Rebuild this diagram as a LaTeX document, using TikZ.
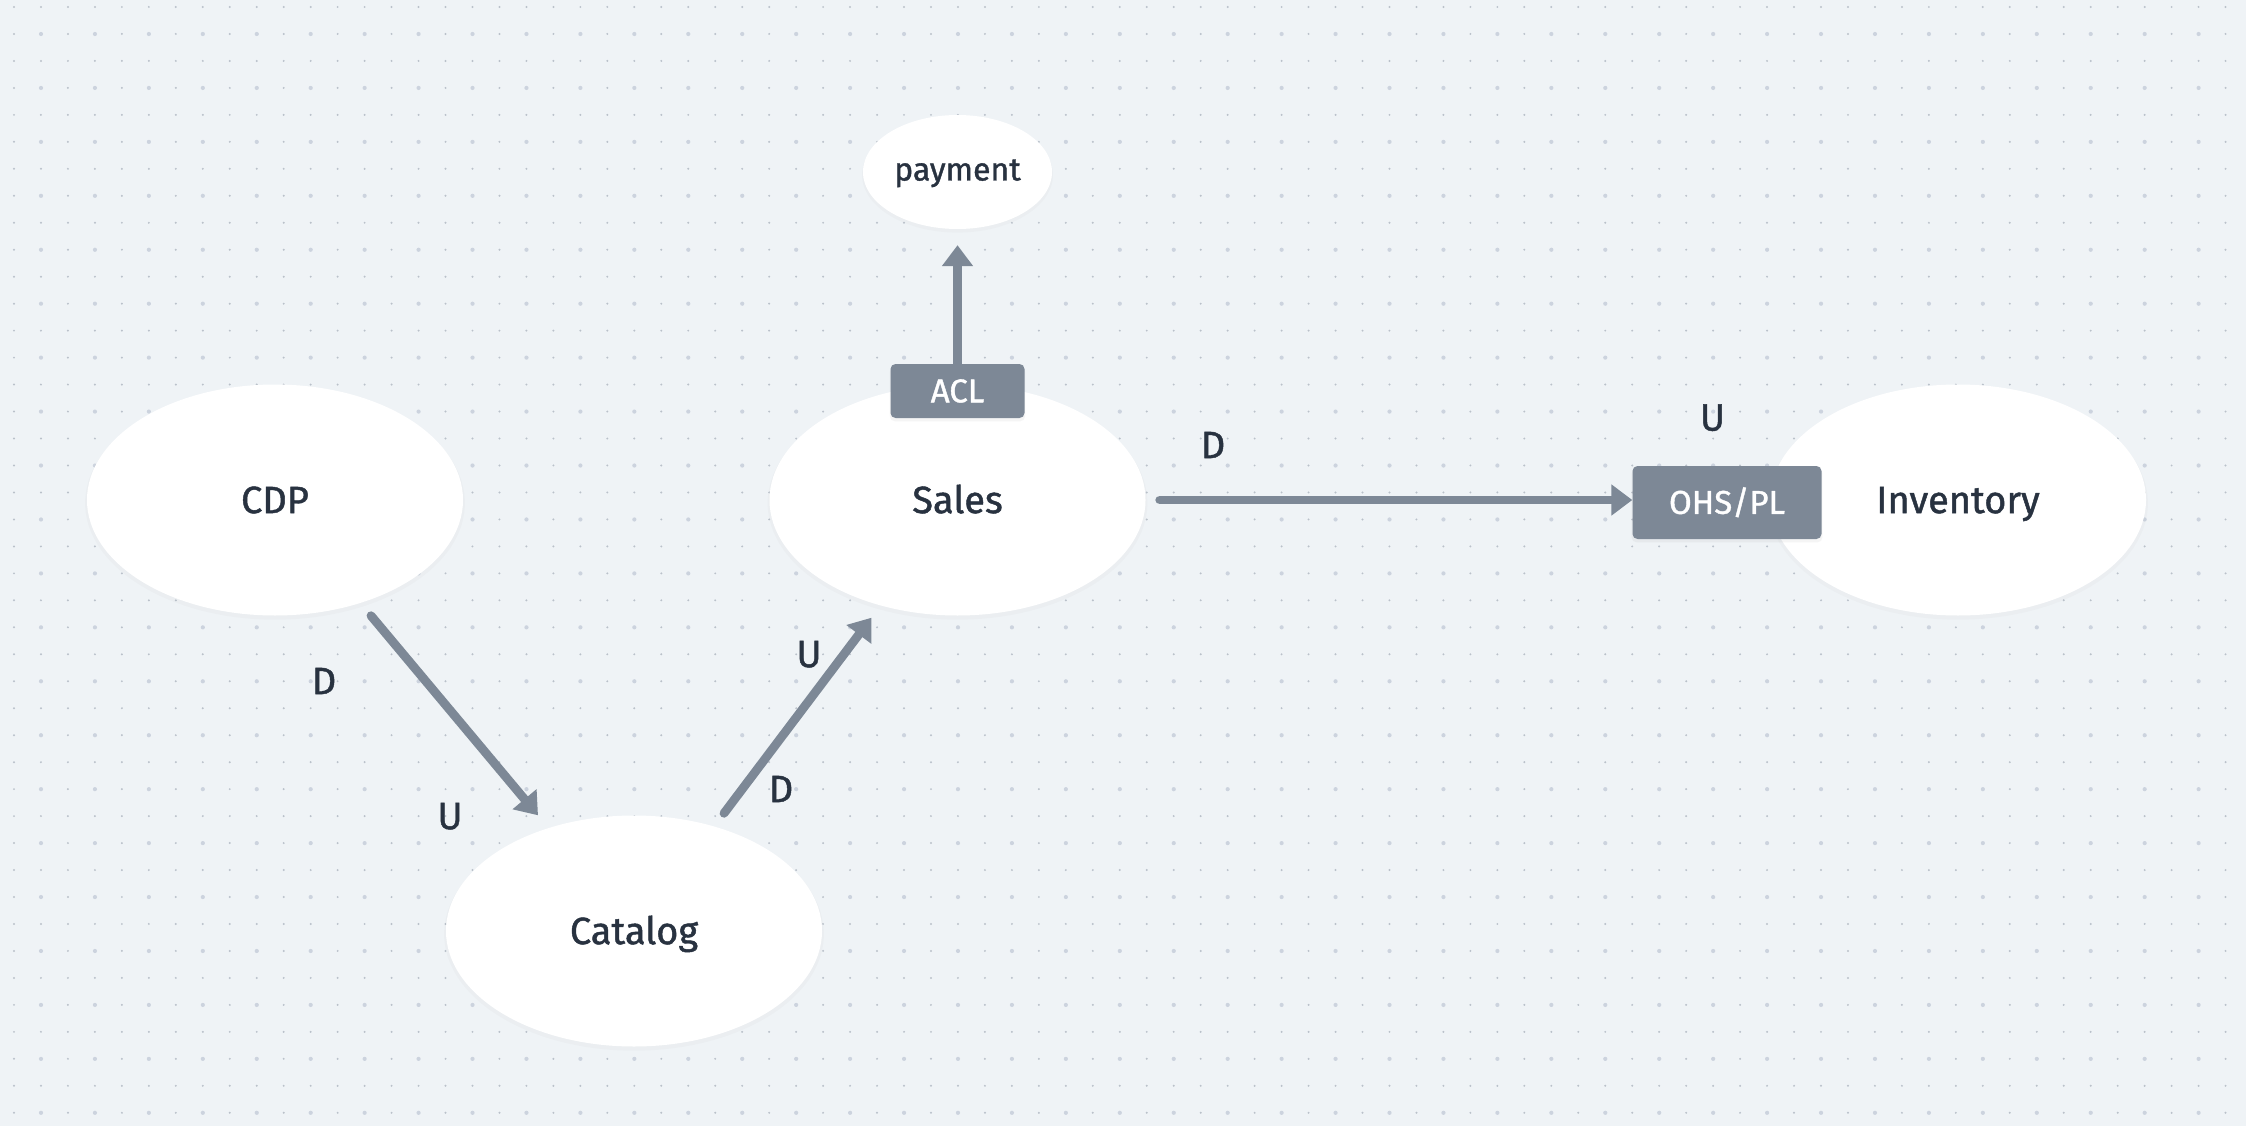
\documentclass[tikz,border=0pt]{standalone}
\usepackage{fontspec}
\setmainfont{Fira Sans}[FakeBold=0.35]
\newfontfamily\labfont{Fira Sans}[FakeBold=1.2]
\usetikzlibrary{arrows.meta,calc,shapes.geometric,shadows}

\definecolor{bgc}{RGB}{239,243,246}
\definecolor{dotsm}{RGB}{186,193,202}
\definecolor{dotlg}{RGB}{204,211,222}
\definecolor{ink}{RGB}{40,50,64}
\definecolor{slate}{RGB}{125,136,150}

\begin{document}
\begin{tikzpicture}[x=1pt,y=-1pt,
  ctx/.style={ellipse, fill=white, inner sep=0pt, minimum width=376pt, minimum height=231pt,
    text=ink, font=\labfont\fontsize{38}{44}\selectfont, text height=26.2pt, text depth=0pt,
    drop shadow={opacity=0.035, shadow xshift=0pt, shadow yshift=-3pt, shadow scale=1.01}},
  tag/.style={rectangle, rounded corners=5pt, fill=slate, inner sep=0pt, text=white,
    font=\labfont\fontsize{33}{40}\selectfont, text height=22.7pt, text depth=0pt,
    drop shadow={opacity=0.08, shadow xshift=0pt, shadow yshift=-3pt, shadow scale=1.01}},
  lab/.style={inner sep=0pt, text=ink, font=\labfont\fontsize{38}{44}\selectfont, text height=26.2pt, text depth=0pt},
  conn/.style={draw=slate, line width=8.8pt, line cap=round, -{Triangle[length=21pt,width=30pt]}}
]
\useasboundingbox (0,0) rectangle (2246,1126);
\fill[bgc] (0,0) rectangle (2246,1126);

% dot grid
\foreach \j in {0,...,41}{
  \fill[dotsm] foreach \i in {0,...,82}{ (14+26.97*\i, 7+26.97*\j) circle[radius=1.1] };
}
\foreach \j in {0,...,20}{
  \fill[dotlg] foreach \i in {0,...,40}{ (41+53.94*\i, 34+53.94*\j) circle[radius=2.1] };
}

% contexts
\node[ctx] (cdp) at (275,500) {CDP};
\node[ctx] (sales) at (957.5,500) {Sales};
\node[ctx] (catalog) at (634,931) {Catalog};
\node[ctx] (inventory) at (1958,500) {Inventory};
\node[ctx, minimum width=189pt, minimum height=114pt, font=\labfont\fontsize{32}{38}\selectfont, text height=16.9pt] (payment) at (957.5,172) {payment};

% connectors
\coordinate (a1s) at ($(cdp.south)+(96,0)$);
\coordinate (a1e) at ($(catalog.north)+(-96,0)$);
\draw[conn] (a1s) -- (a1e);
\coordinate (a2s) at ($(catalog.north)+(90,-2)$);
\coordinate (a2e) at ($(sales.south)+(-86,2)$);
\draw[conn] (a2s) -- (a2e);

% tags
\node[tag, minimum width=134pt, minimum height=54pt] (acl) at (957.5,391) {ACL};
\node[tag, minimum width=189pt, minimum height=73pt] (ohs) at (1727,502.5) {OHS/PL};

\draw[conn, shorten <=14pt] (sales.east) -- (sales.east -| ohs.west);
\draw[conn, shorten >=16pt] (acl.north) -- (payment.south);

% U/D labels
\node[lab] (d1) at (324,681) {D};
\node[lab] (u1) at (450,816) {U};
\node[lab] (u2) at (809,654) {U};
\node[lab] (d2) at (781,789) {D};
\node[lab] (d3) at (1213,445) {D};
\node[lab] (u3) at (1712.5,417.5) {U};
\end{tikzpicture}
\end{document}
